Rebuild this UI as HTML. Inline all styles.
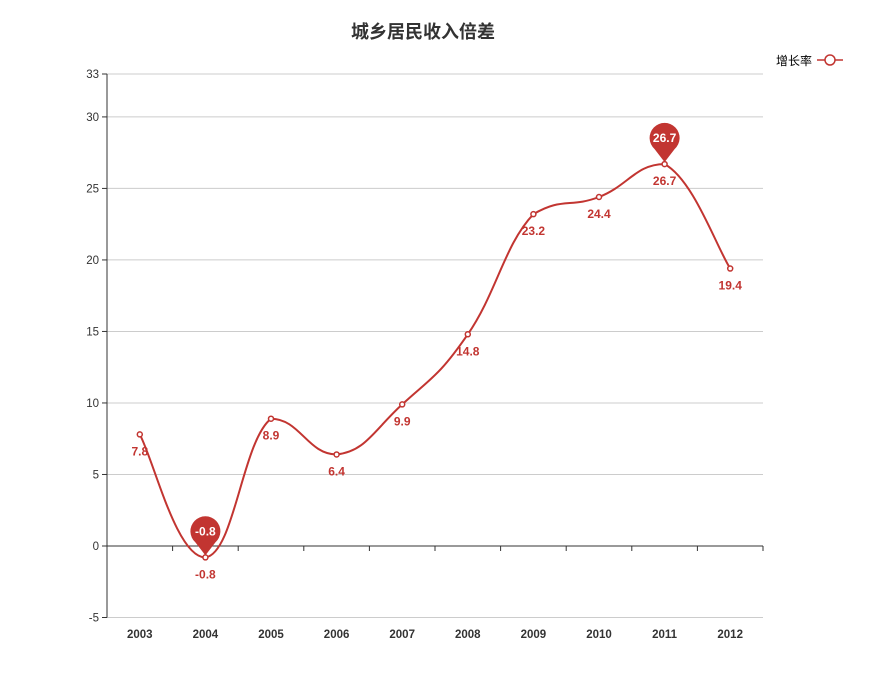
<!DOCTYPE html>
<html><head><meta charset="utf-8"><style>
body{margin:0;background:#fff;}
svg text{font-family:"Liberation Sans","Noto Sans CJK SC",sans-serif;}
</style></head><body>
<svg id="chart" width="874" height="673" xmlns="http://www.w3.org/2000/svg">
<text x="423" y="38" text-anchor="middle" font-size="18" font-weight="bold" fill="#333">城乡居民收入倍差</text>
<g>
<text x="812" y="65" text-anchor="end" font-size="12" fill="#000">增长率</text>
<line x1="817" y1="60" x2="843" y2="60" stroke="#c23531" stroke-width="1.5"/>
<circle cx="830" cy="60" r="5" fill="#fff" stroke="#c23531" stroke-width="1.5"/>
</g>
<g id="grid"></g><g id="axes"></g><g id="series"></g>
</svg>
<script>
const categories=['2003','2004','2005','2006','2007','2008','2009','2010','2011','2012'];
const values=[7.8,-0.8,8.9,6.4,9.9,14.8,23.2,24.4,26.7,19.4];
const yTicks=[-5,0,5,10,15,20,25,30,33];
const NS='http://www.w3.org/2000/svg';
const L=107,R=763,T=74,B=617.5,yMin=-5,yMax=33;
const cw=(R-L)/categories.length;
const x=i=>L+cw*(i+0.5);
const y=v=>B-(v-yMin)/(yMax-yMin)*(B-T);
function el(t,a,p){const e=document.createElementNS(NS,t);for(const k in a)e.setAttribute(k,a[k]);p.appendChild(e);return e;}
const grid=document.getElementById('grid'),axes=document.getElementById('axes'),ser=document.getElementById('series');
yTicks.forEach(v=>{
 const g=el('line',{x1:L,x2:R,y1:y(v),y2:y(v),stroke:'#ccc','stroke-width':1},grid);
 
 
 const t=el('text',{x:L-8,y:y(v)+4,'text-anchor':'end','font-size':11.5,fill:'#333'},axes);
 t.textContent=v;
 
 
 el('line',{x1:L-5,x2:L,y1:y(v),y2:y(v),stroke:'#333'},axes);
});
el('line',{x1:L,x2:L,y1:T,y2:B,stroke:'#333'},axes);
const xa=el('line',{x1:L,x2:R,y1:y(0),y2:y(0),stroke:'#333'},axes);

for(let i=0;i<=categories.length;i++)el('line',{x1:L+cw*i,x2:L+cw*i,y1:y(0),y2:y(0)+5,stroke:'#333'},axes);
categories.forEach((c,i)=>{
 const t=el('text',{x:x(i),y:638,'text-anchor':'middle','font-size':11.5,'font-weight':'bold',fill:'#333'},axes);
 t.textContent=c;
 
 
});
const pts=values.map((v,i)=>[x(i),y(v)]);
let d='M'+pts[0][0]+','+pts[0][1];
const clamp=(v,a,b)=>Math.max(Math.min(a,b),Math.min(Math.max(a,b),v));
for(let i=0;i<pts.length-1;i++){
 const p0=pts[Math.max(0,i-1)],p1=pts[i],p2=pts[i+1],p3=pts[Math.min(pts.length-1,i+2)];
 const s=0.22;
 const c1=[p1[0]+(p2[0]-p0[0])*s,p1[1]+(p2[1]-p0[1])*s];
 const c2=[p2[0]-(p3[0]-p1[0])*s,p2[1]-(p3[1]-p1[1])*s];
 c1[1]=clamp(c1[1],p1[1],p2[1]);c2[1]=clamp(c2[1],p1[1],p2[1]);
 d+=` C${c1[0]},${c1[1]} ${c2[0]},${c2[1]} ${p2[0]},${p2[1]}`;
}
const line=el('path',{d:d,fill:'none',stroke:'#c23531','stroke-width':2},ser);


values.forEach((v,i)=>{
 const c=el('circle',{cx:x(i),cy:y(v),r:2.5,fill:'#fff',stroke:'#c23531','stroke-width':1.5},ser);
 
 
 const t=el('text',{x:x(i),y:y(v)+21,'text-anchor':'middle','font-size':12,'font-weight':'bold',fill:'#c23531'},ser);
 t.textContent=v;
 
 
});
const maxI=values.indexOf(Math.max(...values)),minI=values.indexOf(Math.min(...values));
[maxI,minI].forEach(i=>{
 const px=x(i),py=y(values[i]),r=15,cy=py-26;
 const g=el('g',{},ser);
 
 
 el('path',{d:`M${px},${py-2} L${px-10},${cy+11} A${r},${r} 0 1 1 ${px+10},${cy+11} Z`,fill:'#c23531'},g);
 const t=el('text',{x:px,y:cy+4,'text-anchor':'middle','font-size':12,'font-weight':'bold',fill:'#fff'},g);
 t.textContent=values[i];
});
</script>
</body></html>
